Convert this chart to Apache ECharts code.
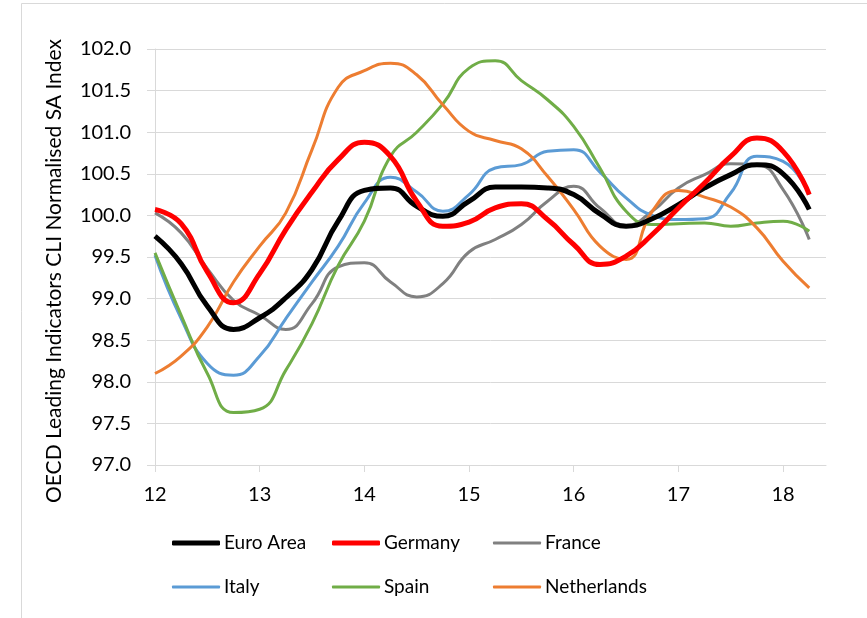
<!DOCTYPE html>
<html>
<head>
<meta charset="utf-8">
<script src="https://cdn.jsdelivr.net/npm/echarts@6/dist/echarts.min.js"></script>
<style>
  html,body{margin:0;padding:0;background:#fff;}
  #main{width:867px;height:618px;}
</style>
</head>
<body>
<div id="main"></div>
<script>
// quarterly points, x = year (12 = 2012)
const years = [12.0,12.25,12.5,12.75,13.0,13.25,13.5,13.75,14.0,14.25,14.5,14.75,15.0,15.25,15.5,15.75,16.0,16.25,16.5,16.75,17.0,17.25,17.5,17.75,18.0,18.25];
const xTicks = [12,13,14,15,16,17,18];
const seriesNames = ['Euro Area','Germany','France','Italy','Spain','Netherlands'];

const euroArea = [99.75,99.42,98.91,98.63,98.77,99.01,99.35,99.93,100.30,100.33,100.11,99.99,100.17,100.34,100.34,100.33,100.25,100.02,99.87,99.96,100.13,100.33,100.49,100.61,100.50,100.07];
const germany = [100.07,99.90,99.32,98.95,99.30,99.83,100.28,100.67,100.88,100.71,100.17,99.87,99.92,100.09,100.14,99.95,99.65,99.41,99.51,99.77,100.09,100.39,100.71,100.93,100.77,100.25];
const france = [100.03,99.79,99.36,98.98,98.80,98.63,98.94,99.38,99.43,99.20,99.02,99.18,99.56,99.71,99.89,100.17,100.35,100.09,99.88,100.05,100.33,100.49,100.62,100.61,100.31,99.71];
const italy = [99.52,98.76,98.22,98.08,98.31,98.76,99.20,99.63,100.15,100.46,100.28,100.05,100.25,100.57,100.61,100.77,100.79,100.52,100.21,100.00,99.95,99.96,100.27,100.71,100.65,100.25];
const spain = [99.55,98.80,98.10,97.63,97.67,98.14,98.70,99.40,99.93,100.71,101.00,101.34,101.77,101.86,101.62,101.39,101.07,100.57,100.05,99.89,99.90,99.91,99.87,99.91,99.93,99.81];
const netherlands = [98.10,98.31,98.66,99.20,99.63,100.03,100.79,101.54,101.74,101.83,101.69,101.33,101.01,100.90,100.80,100.47,100.07,99.63,99.47,100.05,100.30,100.22,100.10,99.85,99.45,99.13];

const allValues = [euroArea,germany,france,italy,spain,netherlands];
const colors = ['#000000','#ff0000','#808080','#5b9bd5','#70ad47','#ed7d31'];
const widths = [5,5,3,3,3,3];

const font = 'Lato, "Open Sans", sans-serif';
const gridGray = '#d9d9d9';

let myChart = echarts.init(document.getElementById('main'), null, {renderer:'canvas'});

// legend: 3 columns x 2 rows, one legend per item so the columns line up
const legendCols = [172,332,493];
const legendRows = [533,577];
let legends = seriesNames.map((name,i)=>({
    data:[name],
    left: legendCols[i%3],
    top: legendRows[Math.floor(i/3)],
    padding:0,
    icon:'roundRect',
    itemWidth:48,
    itemHeight:widths[i],
    itemGap:0,
    textStyle:{fontFamily:font,fontSize:19,color:'#000',lineHeight:20,padding:[0,0,0,-1]}
}));

const option = {
    animation:false,
    backgroundColor:'#fff',
    graphic:[
        {type:'rect',shape:{x:21.5,y:3.5,width:900,height:700},style:{fill:'none',stroke:gridGray,lineWidth:1},silent:true},
        {type:'text',x:54,y:271,rotation:Math.PI/2,
         style:{text:'OECD Leading Indicators CLI Normalised SA Index',fontFamily:font,fontSize:21,fill:'#000',align:'center',verticalAlign:'middle'}}
    ],
    legend:legends,
    grid:{left:155,right:41,top:49,bottom:153,containLabel:false},
    xAxis:{
        type:'value',
        min:12,
        max:18.41,
        interval:1,
        axisLine:{show:true,lineStyle:{color:gridGray,width:1}},
        axisTick:{show:true,length:7,lineStyle:{color:gridGray},customValues:xTicks},
        axisLabel:{fontFamily:font,fontSize:20,color:'#000',margin:20,customValues:xTicks},
        splitLine:{show:false}
    },
    yAxis:{
        type:'value',
        min:97,
        max:102,
        interval:0.5,
        axisLine:{show:true,lineStyle:{color:gridGray,width:1}},
        axisTick:{show:true,length:8,lineStyle:{color:gridGray}},
        axisLabel:{fontFamily:font,fontSize:20,color:'#000',margin:24,formatter:v=>v.toFixed(1)},
        splitLine:{show:true,lineStyle:{color:gridGray,width:1}}
    },
    series:seriesNames.map((name,i)=>({
        name:name,
        type:'line',
        smooth:0.5,
        symbol:'none',
        z: i<2 ? 3 : 2,
        data:years.map((x,k)=>[x,allValues[i][k]]),
        lineStyle:{color:colors[i],width:widths[i]},
        itemStyle:{color:colors[i]}
    }))
};
myChart.setOption(option);
</script>
</body>
</html>
